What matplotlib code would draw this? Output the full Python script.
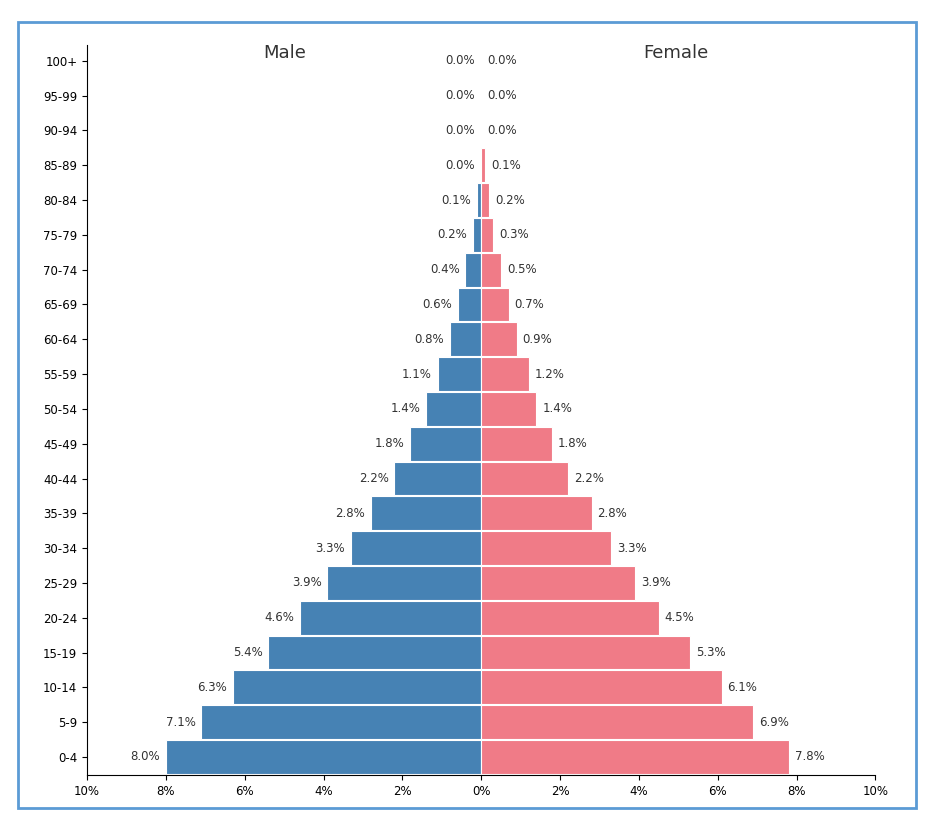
import matplotlib.pyplot as plt
from matplotlib.patches import Rectangle
import numpy as np

age_groups = ['0-4', '5-9', '10-14', '15-19', '20-24', '25-29', '30-34', '35-39',
              '40-44', '45-49', '50-54', '55-59', '60-64', '65-69', '70-74', '75-79',
              '80-84', '85-89', '90-94', '95-99', '100+']
male = [8.0, 7.1, 6.3, 5.4, 4.6, 3.9, 3.3, 2.8, 2.2, 1.8, 1.4, 1.1, 0.8, 0.6, 0.4,
        0.2, 0.1, 0.0, 0.0, 0.0, 0.0]
female = [7.8, 6.9, 6.1, 5.3, 4.5, 3.9, 3.3, 2.8, 2.2, 1.8, 1.4, 1.2, 0.9, 0.7, 0.5,
          0.3, 0.2, 0.1, 0.0, 0.0, 0.0]
xticks = [-10, -8, -6, -4, -2, 0, 2, 4, 6, 8, 10]

fig = plt.figure(figsize=(9.43, 8.25), dpi=100)
ax = fig.add_axes([0.0923, 0.0606, 0.836, 0.885])

y = np.arange(len(age_groups))
ax.barh(y, [-m for m in male], height=0.97, color='#4682b4', edgecolor='white', linewidth=0.8)
ax.barh(y, female, height=0.97, color='#f07b87', edgecolor='white', linewidth=0.8)

for i in range(len(age_groups)):
    ax.text(-male[i] - 0.15, i, f'{male[i]:.1f}%', ha='right', va='center', fontsize=8.5, color='#333333')
    ax.text(female[i] + 0.15, i, f'{female[i]:.1f}%', ha='left', va='center', fontsize=8.5, color='#333333')

ax.set_xlim(-10, 10)
ax.set_ylim(-0.52, 20.46)
ax.set_yticks(y)
ax.set_yticklabels(age_groups, fontsize=8.5)
ax.set_xticks(xticks)
ax.set_xticklabels([f'{abs(t)}%' for t in xticks], fontsize=8.5)
ax.spines['top'].set_visible(False)
ax.spines['right'].set_visible(False)

fig.text(285 / 943, 1 - 53 / 825, 'Male', ha='center', va='center', fontsize=13, color='#333333')
fig.text(676 / 943, 1 - 53 / 825, 'Female', ha='center', va='center', fontsize=13, color='#333333')

fig.patches.append(Rectangle((18 / 943, 1 - 808 / 825), 898 / 943, 786 / 825,
                             transform=fig.transFigure, fill=False,
                             edgecolor='#5b9bd5', linewidth=2))

fig.savefig('out.png', dpi=100)
